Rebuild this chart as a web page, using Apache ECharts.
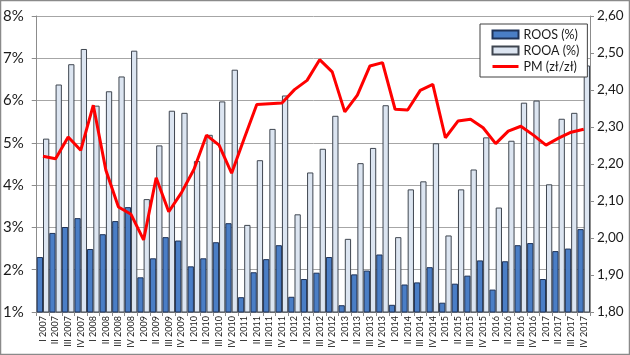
<!DOCTYPE html>
<html>
<head>
<meta charset="utf-8">
<script src="https://cdn.jsdelivr.net/npm/echarts@6/dist/echarts.min.js"></script>
<style>
  html, body { margin: 0; padding: 0; background: #fff; }
  #chart { width: 630px; height: 355px; }
</style>
</head>
<body>
<div id="chart"></div>
<script>
// Categories (quarters)
const categories = [
  'I 2007','II 2007','III 2007','IV 2007',
  'I 2008','II 2008','III 2008','IV 2008',
  'I 2009','II 2009','III 2009','IV 2009',
  'I 2010','II 2010','III 2010','IV 2010',
  'I 2011','II 2011','III 2011','IV 2011',
  'I 2012','II 2012','III 2012','IV 2012',
  'I 2013','II 2013','III 2013','IV 2013',
  'I 2014','II 2014','III 2014','IV 2014',
  'I 2015','II 2015','III 2015','IV 2015',
  'I 2016','II 2016','III 2016','IV 2016',
  'I 2017','II 2017','III 2017','IV 2017'
];

// ROOS (%) — dark bars
const roos = [
  2.30, 2.87, 3.01, 3.22,
  2.49, 2.84, 3.15, 3.48,
  1.82, 2.27, 2.77, 2.69,
  2.08, 2.27, 2.65, 3.10,
  1.35, 1.94, 2.25, 2.58,
  1.36, 1.78, 1.93, 2.30,
  1.16, 1.89, 1.98, 2.36,
  1.17, 1.65, 1.70, 2.06,
  1.22, 1.67, 1.86, 2.22,
  1.53, 2.20, 2.58, 2.63,
  1.78, 2.44, 2.50, 2.96
];

// ROOA (%) — light bars
const rooa = [
  5.10, 6.38, 6.86, 7.22,
  5.88, 6.22, 6.57, 7.18,
  3.67, 4.94, 5.76, 5.71,
  4.57, 5.19, 5.98, 6.73,
  3.06, 4.59, 5.33, 6.12,
  3.31, 4.30, 4.86, 5.64,
  2.73, 4.52, 4.88, 5.89,
  2.77, 3.90, 4.09, 4.99,
  2.81, 3.90, 4.37, 5.13,
  3.47, 5.05, 5.95, 6.00,
  4.02, 5.57, 5.71, 6.83
];

// PM (zł/zł) — red line, right axis
const pm = [
  2.221, 2.214, 2.273, 2.237,
  2.359, 2.183, 2.084, 2.064,
  1.995, 2.163, 2.071, 2.122,
  2.185, 2.278, 2.251, 2.175,
  2.269, 2.361, 2.363, 2.365,
  2.401, 2.426, 2.482, 2.449,
  2.341, 2.386, 2.465, 2.474,
  2.348, 2.346, 2.399, 2.415,
  2.271, 2.316, 2.321, 2.298,
  2.255, 2.289, 2.302, 2.278,
  2.251, 2.270, 2.286, 2.294
];

const FONT = 'Lato, "Open Sans", "Liberation Sans", sans-serif';
const GRAY = '#8C8C8C';

const chart = echarts.init(document.getElementById('chart'), null, { renderer: 'canvas' });

chart.setOption({
  animation: false,
  backgroundColor: '#ffffff',
  textStyle: { fontFamily: FONT },
  graphic: [{
    type: 'rect',
    shape: { x: 0.5, y: 0.5, width: 629, height: 354 },
    style: { fill: 'none', stroke: '#8A8A8A', lineWidth: 1.5 },
    silent: true, z: 100
  }],
  grid: { left: 35, right: 40, top: 16, bottom: 43, containLabel: false },
  legend: {
    orient: 'vertical',
    left: 480, top: 24,
    padding: [4, 8, 4, 11],
    itemGap: 3,
    itemWidth: 26, itemHeight: 8,
    backgroundColor: '#fff',
    borderColor: '#404040', borderWidth: 1,
    textStyle: { fontFamily: FONT, fontSize: 12.5, color: '#1a1a1a', lineHeight: 13 },
    data: [
      { name: 'ROOS (%)', icon: 'rect' },
      { name: 'ROOA (%)', icon: 'rect' },
      { name: 'PM (zł/zł)', itemStyle: { opacity: 0 }, lineStyle: { width: 3, color: '#FF0000' } }
    ]
  },
  xAxis: {
    type: 'category',
    data: categories,
    boundaryGap: true,
    axisLine: { show: true, lineStyle: { color: GRAY, width: 1 } },
    axisTick: { show: true, length: 4, lineStyle: { color: GRAY } },
    axisLabel: {
      interval: 0, rotate: 90, fontSize: 9, color: '#1a1a1a',
      fontFamily: FONT, margin: 4
    },
    splitLine: { show: false }
  },
  yAxis: [
    {
      type: 'value',
      min: 1, max: 8, interval: 1,
      position: 'left',
      axisLine: { show: true, lineStyle: { color: GRAY } },
      axisTick: { show: true, length: 5, lineStyle: { color: GRAY } },
      axisLabel: {
        formatter: '{value}%', fontSize: 15, color: '#1a1a1a',
        fontFamily: FONT, margin: 13
      },
      splitLine: { show: true, lineStyle: { color: '#A6A6A6', width: 1 } }
    },
    {
      type: 'value',
      min: 1.8, max: 2.6, interval: 0.1,
      position: 'right',
      axisLine: { show: true, lineStyle: { color: GRAY } },
      axisTick: { show: true, length: 4, lineStyle: { color: GRAY } },
      axisLabel: {
        formatter: function (v) { return v.toFixed(2).replace('.', ','); },
        fontSize: 13.5, color: '#1a1a1a', fontFamily: FONT, margin: 7
      },
      splitLine: { show: false }
    }
  ],
  series: [
    {
      name: 'ROOS (%)',
      type: 'bar',
      yAxisIndex: 0,
      data: roos,
      barGap: '0%',
      barCategoryGap: '0%',
      clip: true,
      itemStyle: { color: '#4A7EC6', borderColor: '#1F3358', borderWidth: 1 }
    },
    {
      name: 'ROOA (%)',
      type: 'bar',
      yAxisIndex: 0,
      data: rooa,
      barGap: '0%',
      barCategoryGap: '0%',
      clip: true,
      itemStyle: { color: '#DCE5F1', borderColor: '#3F4650', borderWidth: 1 }
    },
    {
      name: 'PM (zł/zł)',
      type: 'line',
      yAxisIndex: 1,
      data: pm,
      symbol: 'none',
      showSymbol: false,
      z: 5,
      lineStyle: { color: '#FF0000', width: 3 },
      itemStyle: { color: '#FF0000' }
    }
  ]
});
</script>
</body>
</html>
